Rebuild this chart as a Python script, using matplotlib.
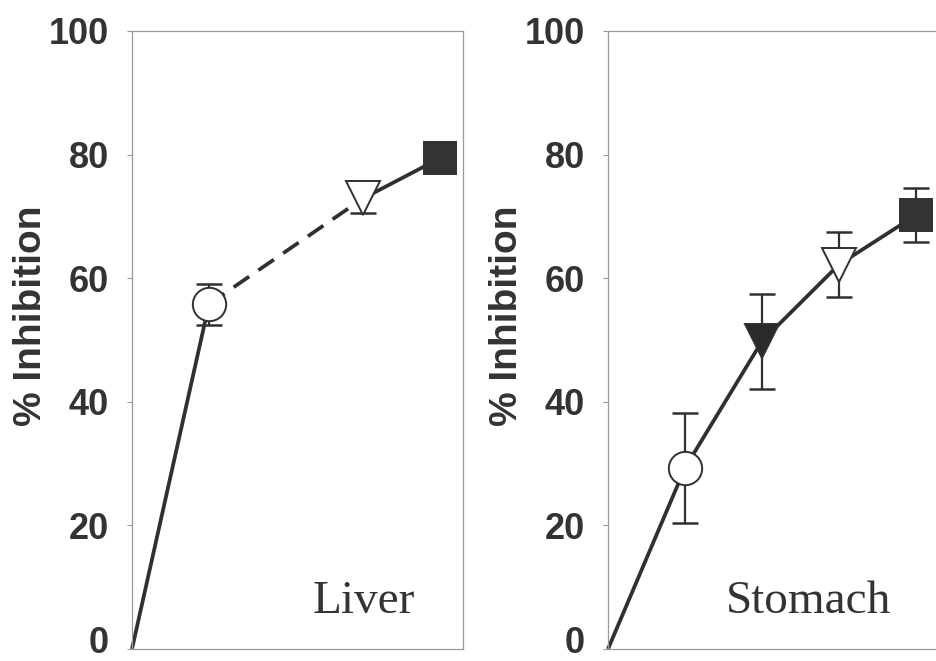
import matplotlib
matplotlib.use("Agg")
import matplotlib.pyplot as plt
from matplotlib.transforms import ScaledTranslation

# ---- data ----
liver_x = [0, 1, 3, 4]
liver_y = [0, 55.8, 72.9, 79.4]
liver_err = [0, 3.3, 2.3, 0.8]
liver_markers = [None, "o", "v", "s"]
liver_fill = [None, "white", "white", "#333333"]
liver_styles = ["-", (0, (5, 3)), "-"]  # segment styles between successive points

stom_x = [0, 1, 2, 3, 4]
stom_y = [0, 29.3, 49.8, 62.2, 70.2]
stom_err = [0, 8.9, 7.7, 5.3, 4.4]
stom_markers = [None, "o", "v", "v", "s"]
stom_fill = [None, "white", "#2a2a2a", "white", "#333333"]
stom_styles = ["-", "-", "-", "-"]

yticks = [0, 20, 40, 60, 80, 100]
ylabel = "% Inhibition"
panel_names = ["Liver", "Stomach"]

dark = "#303030"
frame = "#9a9a9a"

fig = plt.figure(figsize=(9.36, 6.61), dpi=100)
W, H = 936, 661
ax_w = 331 / W
ax_b = 1 - 649 / H
ax_h = 618 / H
axes = [fig.add_axes([132 / W, ax_b, ax_w, ax_h]),
        fig.add_axes([608 / W, ax_b, ax_w, ax_h])]

msizes = {"o": 24, "v": 25, "s": 23}

def draw(ax, xs, ys, errs, markers, fills, styles, name):
    for i, ls in enumerate(styles):
        ax.plot(xs[i:i + 2], ys[i:i + 2], color=dark, lw=2.7, linestyle=ls,
                solid_capstyle="butt", dash_capstyle="butt", zorder=2, clip_on=False)
    for x, y, e, m, f in zip(xs, ys, errs, markers, fills):
        if m is None:
            continue
        ax.errorbar([x], [y], yerr=[e], fmt="none", ecolor=dark, elinewidth=1.6,
                    capsize=9.5, capthick=1.8, zorder=1.5, clip_on=False)
        ax.plot([x], [y], marker=m, markersize=msizes[m], markerfacecolor=f,
                markeredgecolor=dark, markeredgewidth=1.4, linestyle="none",
                zorder=3, clip_on=False)
    ax.set_xlim(0, 4.3)
    ax.set_ylim(0, 100)
    ax.set_xticks([])
    ax.set_yticks(yticks)
    ax.set_yticklabels([str(t) for t in yticks], fontsize=26, fontweight="bold",
                       color="#333333", family="Liberation Sans")
    ax.tick_params(axis="y", direction="out", length=3.6, width=0.8, color=frame, pad=13)
    # nudge the bottom "0" label up slightly so it stays inside the figure
    lab0 = ax.get_yticklabels()[0]
    lab0.set_transform(lab0.get_transform() + ScaledTranslation(0, 6.5 / 72, fig.dpi_scale_trans))
    for s in ax.spines.values():
        s.set_color(frame)
        s.set_linewidth(0.9)
    ax.set_ylabel(ylabel, fontsize=28, fontweight="bold", color="#333333",
                  family="Liberation Sans")
    ax.yaxis.set_label_coords(-0.252, 0.54)
    ax.text(0.855, 0.058, name, transform=ax.transAxes, ha="right", va="baseline",
            fontsize=34, color="#333333", family="Liberation Serif")

draw(axes[0], liver_x, liver_y, liver_err, liver_markers, liver_fill, liver_styles, panel_names[0])
draw(axes[1], stom_x, stom_y, stom_err, stom_markers, stom_fill, stom_styles, panel_names[1])

fig.savefig("out.png", dpi=100)
